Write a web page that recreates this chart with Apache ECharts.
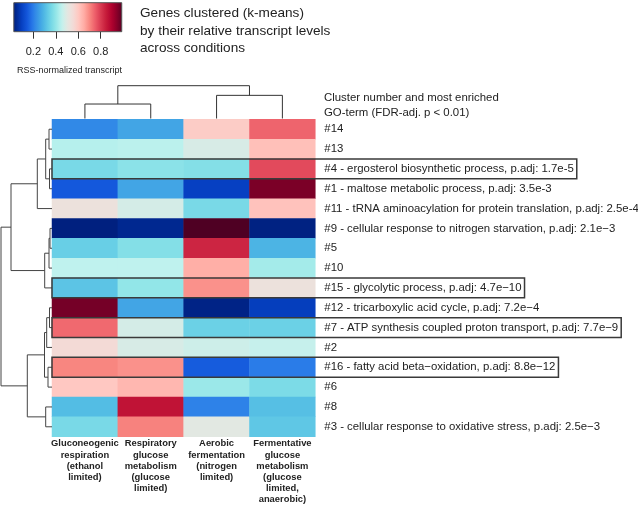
<!DOCTYPE html>
<html><head><meta charset="utf-8">
<script src="https://cdn.jsdelivr.net/npm/echarts@6/dist/echarts.min.js"></script>
<style>html,body{margin:0;padding:0;background:#fff}#c{width:638px;height:505px}</style>
</head><body><div id="c"></div>
<script>
// ---------- data ----------
const conditions = [
  'Gluconeogenic\nrespiration\n(ethanol\nlimited)',
  'Respiratory\nglucose\nmetabolism\n(glucose\nlimited)',
  'Aerobic\nfermentation\n(nitrogen\nlimited)',
  'Fermentative\nglucose\nmetabolism\n(glucose\nlimited,\nanaerobic)'
];
const clusterIds = ['#14','#13','#4','#1','#11','#9','#5','#10','#15','#12','#7','#2','#16','#6','#8','#3'];
const goTerms = [
  '', '',
  'ergosterol biosynthetic process, p.adj: 1.7e-5',
  'maltose metabolic process, p.adj: 3.5e-3',
  'tRNA aminoacylation for protein translation, p.adj: 2.5e-4',
  'cellular response to nitrogen starvation, p.adj: 2.1e\u22123',
  '', '',
  'glycolytic process, p.adj: 4.7e\u221210',
  'tricarboxylic acid cycle, p.adj: 7.2e\u22124',
  'ATP synthesis coupled proton transport, p.adj: 7.7e\u22129',
  '',
  'fatty acid beta\u2212oxidation, p.adj: 8.8e\u221212',
  '', '',
  'cellular response to oxidative stress, p.adj: 2.5e\u22123'
];
const boxedClusters = ['#4','#15','#7','#16'];

// RSS-normalized transcript per condition (rows in display order)
const valGluconeogenic = [0.22,0.44,0.365,0.15,0.53,0.025,0.34,0.45,0.32,0.96,0.735,0.555,0.70,0.60,0.305,0.365];
const valRespiratory   = [0.265,0.445,0.39,0.265,0.48,0.05,0.38,0.45,0.40,0.265,0.48,0.485,0.685,0.63,0.86,0.705];
const valAerobic       = [0.59,0.485,0.38,0.10,0.365,0.995,0.83,0.645,0.685,0.035,0.345,0.47,0.155,0.41,0.21,0.50];
const valFermentative  = [0.74,0.615,0.775,0.955,0.61,0.03,0.29,0.42,0.53,0.095,0.345,0.46,0.20,0.37,0.31,0.325];

// hierarchical clustering merges (negative = leaf index+1, positive = merge number)
const rowMerges = [[-1,-2],[-3,-4],[1,2],[3,-5],[-6,-7],[5,-8],[6,-9],[4,7],[-10,-11],[9,-12],[-13,-14],[10,11],[-15,-16],[12,13],[8,14]];
const rowMergeHeights = [0.30,0.25,0.63,1.47,0.20,0.30,0.73,4.10,0.25,0.53,0.40,0.75,0.63,2.47,5.10];
const colMerges = [[-1,-2],[-3,-4],[1,2]];
const colMergeHeights = [1.47,2.35,3.33];

// colour scale
const scaleColors = ['#00186e','#002890','#0640c2','#1458dc','#2a7ce8','#3c9ce6','#50bae4','#6ed4e6','#92e6e8','#bff2ee','#e2e8e2','#f2dcd8','#ffc8c2','#ffaca4','#f88680','#ec5c68','#d83850','#c41838','#ae002e','#800028','#4a0022'];
const colorbarTicks = [0.2,0.4,0.6,0.8];
const colorbarRange = [0.026,0.987];

// ---------- helpers ----------
const FONT = '"Liberation Sans", Arial, Helvetica, sans-serif';
const TXT = '#222';
const LABEL_SIZE = 11.4;
function dendroSegments(merges, heights) {
  const nodes = [], segs = [];
  const node = r => r < 0 ? {p: -r - 1, h: 0} : nodes[r - 1];
  merges.forEach((m, i) => {
    const a = node(m[0]), b = node(m[1]), h = heights[i];
    segs.push([a.p, a.h, a.p, h]);
    segs.push([b.p, b.h, b.p, h]);
    segs.push([a.p, h, b.p, h]);
    nodes.push({p: (a.p + b.p) / 2, h: h});
  });
  return segs;
}
const rowLabels = clusterIds.map((id, i) => goTerms[i] ? id + ' - ' + goTerms[i] : id);
const heatData = [];
[valGluconeogenic, valRespiratory, valAerobic, valFermentative].forEach((arr, c) =>
  arr.forEach((v, r) => heatData.push([c, r, v])));

const mctx = document.createElement('canvas').getContext('2d');
mctx.font = LABEL_SIZE + 'px ' + FONT;
const boxData = clusterIds.map((id, r) => boxedClusters.includes(id) ? [0, r, mctx.measureText(rowLabels[r]).width] : null).filter(Boolean);

const LABEL_MARGIN = 9;
const gradStops = [];
for (let i = 0; i <= 40; i++) {
  const t = i / 40;
  const v = colorbarRange[0] + t * (colorbarRange[1] - colorbarRange[0]);
  gradStops.push({offset: t, color: echarts.color.lerp(v, scaleColors)});
}

const chart = echarts.init(document.getElementById('c'), null, {renderer: 'canvas'});
const HM = {left: 52, top: 119.3, width: 263.3, height: 317.4};
const G = {outerBoundsMode: 'none', containLabel: false};
chart.setOption({
  animation: false,
  textStyle: {fontFamily: FONT},
  grid: [
    Object.assign({left: HM.left, top: HM.top, width: HM.width, height: HM.height}, G),   // heatmap
    Object.assign({left: 0, top: HM.top, width: HM.left, height: HM.height}, G),          // row dendrogram
    Object.assign({left: HM.left, top: 85, width: HM.width, height: 33.5}, G),            // column dendrogram
    Object.assign({left: 10.9, top: 2.7, width: 112.3, height: 29}, G)                    // colour bar
  ],
  xAxis: [
    {gridIndex: 0, type: 'category', data: conditions, position: 'bottom',
     axisLine: {show: false}, axisTick: {show: false},
     axisLabel: {interval: 0, fontSize: 9.4, fontWeight: 'bold', lineHeight: 11.2, margin: 1.5, color: TXT, fontFamily: FONT}},
    {gridIndex: 1, type: 'value', min: 0, max: 5.2, inverse: true, show: false},
    {gridIndex: 2, type: 'value', min: -0.5, max: 3.5, show: false},
    {gridIndex: 3, type: 'value', min: 0, max: 1, position: 'bottom',
     axisLine: {show: false}, splitLine: {show: false},
     axisTick: {show: true, customValues: colorbarTicks, length: 7, lineStyle: {color: '#333', width: 1}},
     axisLabel: {customValues: colorbarTicks, fontSize: 11, margin: 15, color: TXT, fontFamily: FONT,
                 formatter: v => v.toFixed(1)}}
  ],
  yAxis: [
    {gridIndex: 0, type: 'category', data: rowLabels, inverse: true, position: 'right',
     axisLine: {show: false}, axisTick: {show: false},
     axisLabel: {interval: 0, fontSize: LABEL_SIZE, margin: LABEL_MARGIN, color: TXT, fontFamily: FONT}},
    {gridIndex: 1, type: 'value', min: -0.5, max: 15.5, inverse: true, show: false},
    {gridIndex: 2, type: 'value', min: 0, max: 3.4, show: false},
    {gridIndex: 3, type: 'value', min: 0, max: 1, show: false}
  ],
  visualMap: {type: 'continuous', show: false, min: 0, max: 1, seriesIndex: 0, inRange: {color: scaleColors}},
  graphic: [
    {type: 'text', left: 140, top: 4.5, style: {text: 'Genes clustered (k-means)\nby their relative transcript levels\nacross conditions',
      font: '13.6px ' + FONT, lineHeight: 17.5, fill: TXT}},
    {type: 'text', left: 17, top: 66, style: {text: 'RSS-normalized transcript', font: '9px ' + FONT, fill: TXT}},
    {type: 'text', left: 324, top: 90, style: {text: 'Cluster number and most enriched\nGO-term (FDR-adj. p < 0.01)',
      font: LABEL_SIZE + 'px ' + FONT, lineHeight: 15, fill: TXT}}
  ],
  series: [
    {type: 'heatmap', xAxisIndex: 0, yAxisIndex: 0, data: heatData, itemStyle: {borderWidth: 0}},
    {type: 'custom', xAxisIndex: 1, yAxisIndex: 1, clip: false, data: dendroSegments(rowMerges, rowMergeHeights),
     renderItem: (params, api) => {
       const p1 = api.coord([api.value(1), api.value(0)]);
       const p2 = api.coord([api.value(3), api.value(2)]);
       return {type: 'line', shape: {x1: p1[0], y1: p1[1], x2: p2[0], y2: p2[1]}, style: {stroke: '#444', lineWidth: 1}};
     }},
    {type: 'custom', xAxisIndex: 2, yAxisIndex: 2, clip: false, data: dendroSegments(colMerges, colMergeHeights),
     renderItem: (params, api) => {
       const p1 = api.coord([api.value(0), api.value(1)]);
       const p2 = api.coord([api.value(2), api.value(3)]);
       return {type: 'line', shape: {x1: p1[0], y1: p1[1], x2: p2[0], y2: p2[1]}, style: {stroke: '#333', lineWidth: 1}};
     }},
    {type: 'custom', xAxisIndex: 0, yAxisIndex: 0, clip: false, z: 5, data: boxData,
     renderItem: (params, api) => {
       const c = api.coord([0, api.value(1)]);
       const sz = api.size([1, 1]);
       const left = c[0] - sz[0] / 2;
       const right = left + sz[0] * 4 + LABEL_MARGIN + api.value(2) + 3;
       return {type: 'rect', shape: {x: left, y: c[1] - sz[1] / 2, width: right - left, height: sz[1]},
               style: {fill: 'none', stroke: '#3a3a3a', lineWidth: 1.5}};
     }},
    {type: 'custom', xAxisIndex: 3, yAxisIndex: 3, clip: false, data: [colorbarRange],
     renderItem: (params, api) => {
       const p1 = api.coord([api.value(0), 0]);
       const p2 = api.coord([api.value(1), 0]);
       const cs = params.coordSys;
       return {type: 'rect', shape: {x: p1[0], y: cs.y, width: p2[0] - p1[0], height: cs.height},
               style: {fill: new echarts.graphic.LinearGradient(0, 0, 1, 0, gradStops), stroke: '#555', lineWidth: 1}};
     }}
  ]
});
</script></body></html>
